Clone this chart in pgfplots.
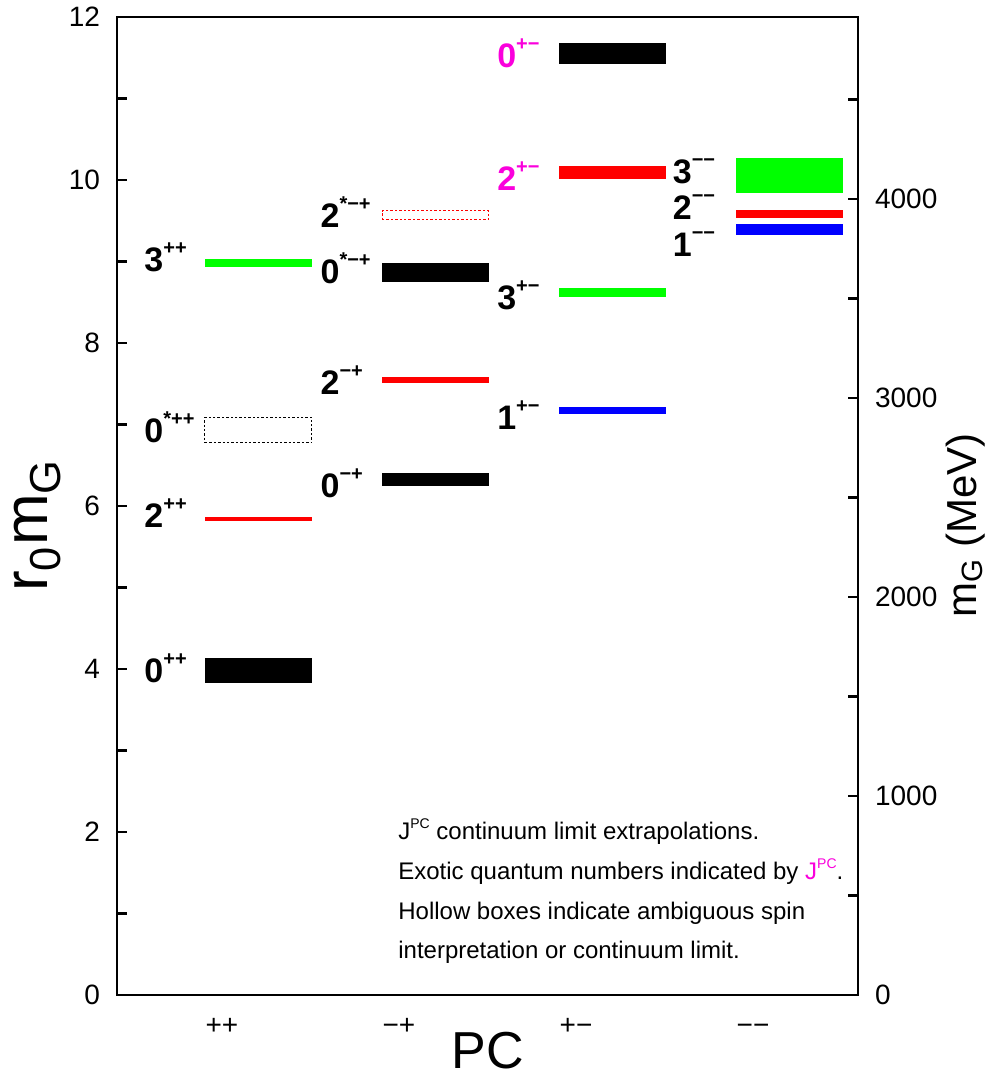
\documentclass[border=0pt]{standalone}
\usepackage{pgfplots}
\pgfplotsset{compat=1.18}
\usepackage{fontspec}
\setmainfont{Liberation Sans}

\definecolor{exotic}{RGB}{250,0,220}
\definecolor{lgreen}{RGB}{0,255,0}

% state label: big bold J, small raised PC
\newcommand{\st}[2]{{\fontsize{17}{17}\selectfont\bfseries #1\raisebox{8.5pt}{\fontsize{10}{10}\selectfont #2}}}
\newcommand{\jpc}{J\raisebox{5.3pt}{\fontsize{7}{7}\selectfont PC}}

% filled level: xleft xright ylow yhigh colour
\newcommand{\lvl}[5]{\addplot[draw=none,fill=#5,forget plot] coordinates {(#1,#3) (#2,#3) (#2,#4) (#1,#4)} -- cycle;}
% hollow level
\newcommand{\hlvl}[5]{\addplot[draw=#5,line width=0.5pt,dash pattern=on 1.2pt off 1pt,fill=none,forget plot] coordinates {(#1,#3) (#2,#3) (#2,#4) (#1,#4)} -- cycle;}

\begin{document}
\begin{tikzpicture}
\useasboundingbox (-58.5pt,-40.5pt) rectangle (443.5pt,497.5pt);
\begin{axis}[
  scale only axis,
  width=370.5pt, height=489pt,
  xmin=0.407, xmax=4.593,
  ymin=0, ymax=12,
  axis line style={line width=1.2pt},
  every tick/.style={line width=1.2pt, black},
  tick align=inside,
  ytick pos=left,
  xtick pos=bottom,
  ytick={0,2,...,12},
  minor ytick={1,3,...,11},
  major tick length=5pt, minor tick length=5pt,
  xtick={1,2,3,4},
  xticklabels={++,−+,+−,−−},
  x tick style={draw=none},
  /pgf/number format/assume math mode=true,
  ticklabel style={font=\fontsize{14}{14}\selectfont},
  yticklabel style={xshift=-5pt},
  xticklabel style={yshift=-6pt, text height=10pt, text depth=0pt},
  xlabel={PC},
  xlabel style={font=\fontsize{26}{26}\selectfont, inner sep=0pt, at={(axis description cs:0.5,0)}, anchor=base, yshift=-36.5pt},
  ylabel={r\textsubscript{0}m\textsubscript{G}},
  ylabel style={font=\fontsize{31}{31}\selectfont, at={(axis description cs:-0.107,0.48)}, anchor=center},
]
% ++
\lvl{0.904}{1.508}{3.825}{4.139}{black}
\lvl{0.904}{1.508}{5.819}{5.861}{red}
\hlvl{0.904}{1.508}{6.777}{7.088}{black}
\lvl{0.904}{1.508}{8.930}{9.030}{lgreen}
% -+
\lvl{1.904}{2.508}{6.245}{6.405}{black}
\lvl{1.904}{2.508}{7.513}{7.587}{red}
\lvl{1.904}{2.508}{8.752}{8.985}{black}
\hlvl{1.904}{2.508}{9.520}{9.620}{red}
% +-
\lvl{2.904}{3.508}{7.129}{7.218}{blue}
\lvl{2.904}{3.508}{8.564}{8.679}{lgreen}
\lvl{2.904}{3.508}{10.016}{10.176}{red}
\lvl{2.904}{3.508}{11.427}{11.685}{black}
% --
\lvl{3.904}{4.508}{9.325}{9.464}{blue}
\lvl{3.904}{4.508}{9.538}{9.636}{red}
\lvl{3.904}{4.508}{9.840}{10.274}{lgreen}

\begin{scope}[every node/.style={anchor=base west, inner sep=0pt}]
\node at (axis cs:0.56,8.883) {\st{3}{++}};
\node at (axis cs:0.56,6.773) {\st{0}{*++}};
\node at (axis cs:0.56,5.733) {\st{2}{++}};
\node at (axis cs:0.56,3.833) {\st{0}{++}};
\node at (axis cs:1.555,9.413) {\st{2}{*−+}};
\node at (axis cs:1.555,8.733) {\st{0}{*−+}};
\node at (axis cs:1.555,7.373) {\st{2}{−+}};
\node at (axis cs:1.555,6.103) {\st{0}{−+}};
\node[text=exotic] at (axis cs:2.553,11.383) {\st{0}{+−}};
\node[text=exotic] at (axis cs:2.553,9.873) {\st{2}{+−}};
\node at (axis cs:2.553,8.413) {\st{3}{+−}};
\node at (axis cs:2.553,6.943) {\st{1}{+−}};
\node at (axis cs:3.545,9.953) {\st{3}{−−}};
\node at (axis cs:3.545,9.513) {\st{2}{−−}};
\node at (axis cs:3.545,9.063) {\st{1}{−−}};
\end{scope}

\begin{scope}[every node/.style={anchor=base west, inner sep=0pt, font=\fontsize{12}{12}\selectfont}]
\node at (axis cs:1.994,1.914) {\jpc{} continuum limit extrapolations.};
\node at (axis cs:1.994,1.423) {Exotic quantum numbers indicated by \textcolor{exotic}{\jpc}.};
\node at (axis cs:1.994,0.932) {Hollow boxes indicate ambiguous spin};
\node at (axis cs:1.994,0.442) {interpretation or continuum limit.};
\end{scope}
\end{axis}

\begin{axis}[
  scale only axis,
  width=370.5pt, height=489pt,
  xmin=0.407, xmax=4.593,
  ymin=0, ymax=4915,
  axis x line=none,
  axis y line*=right,
  axis line style={line width=1.2pt, -},
  every tick/.style={line width=1.2pt, black},
  tick align=inside,
  ytick={0,1000,...,4000},
  minor ytick={500,1500,...,4500},
  major tick length=5pt, minor tick length=5pt,
  /pgf/number format/assume math mode=true,
  /pgf/number format/1000 sep={},
  ticklabel style={font=\fontsize{14}{14}\selectfont},
  yticklabel style={xshift=5pt},
  ylabel={m\textsubscript{G} (MeV)},
  ylabel style={font=\fontsize{21}{21}\selectfont, at={(axis description cs:1.145,0.48)}, anchor=center},
]
\end{axis}
\end{tikzpicture}
\end{document}
